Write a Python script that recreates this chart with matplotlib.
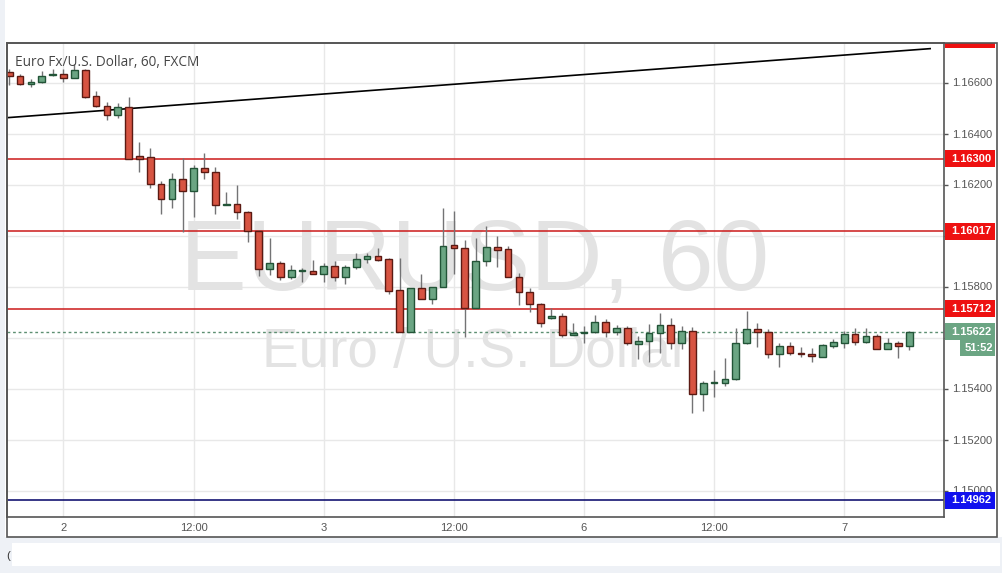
import matplotlib
matplotlib.use('Agg')
import matplotlib.pyplot as plt
from matplotlib.patches import Rectangle

# ---------------- data ----------------
opens = [1.16640, 1.16624, 1.16593, 1.16601, 1.16628, 1.16632, 1.16616, 1.16650, 1.16546, 1.16507,
         1.16471, 1.16503, 1.16312, 1.16309, 1.16201, 1.16142, 1.16223, 1.16173, 1.16264, 1.16250,
         1.16118, 1.16122, 1.16091, 1.16019, 1.15867, 1.15891, 1.15838, 1.15862, 1.15862, 1.15850,
         1.15879, 1.15836, 1.15875, 1.15907, 1.15918, 1.15907, 1.15786, 1.15622, 1.15793, 1.15750,
         1.15797, 1.15962, 1.15952, 1.15714, 1.15899, 1.15954, 1.15946, 1.15836, 1.15777, 1.15730,
         1.15675, 1.15683, 1.15609, 1.15619, 1.15620, 1.15660, 1.15622, 1.15636, 1.15573, 1.15587,
         1.15617, 1.15648, 1.15577, 1.15627, 1.15377, 1.15422, 1.15423, 1.15436, 1.15577, 1.15632,
         1.15622, 1.15534, 1.15566, 1.15539, 1.15535, 1.15525, 1.15568, 1.15580, 1.15614, 1.15583,
         1.15606, 1.15556, 1.15577, 1.15566]
highs = [1.16653, 1.16632, 1.16614, 1.16645, 1.16653, 1.16653, 1.16671, 1.16653, 1.16568, 1.16525,
         1.16518, 1.16543, 1.16366, 1.16342, 1.16215, 1.16244, 1.16303, 1.16275, 1.16322, 1.16267,
         1.16171, 1.16198, 1.16095, 1.16022, 1.15989, 1.15899, 1.15886, 1.15873, 1.15903, 1.15891,
         1.15900, 1.15884, 1.15933, 1.15931, 1.15950, 1.15911, 1.15911, 1.15794, 1.15849, 1.15798,
         1.16107, 1.16097, 1.15982, 1.15991, 1.16037, 1.15998, 1.15959, 1.15852, 1.15793, 1.15736,
         1.15714, 1.15695, 1.15658, 1.15645, 1.15688, 1.15674, 1.15648, 1.15645, 1.15606, 1.15653,
         1.15695, 1.15675, 1.15646, 1.15640, 1.15431, 1.15473, 1.15518, 1.15636, 1.15704, 1.15658,
         1.15632, 1.15577, 1.15582, 1.15564, 1.15558, 1.15576, 1.15595, 1.15627, 1.15636, 1.15637,
         1.15614, 1.15597, 1.15586, 1.15624]
lows = [1.16590, 1.16590, 1.16584, 1.16598, 1.16627, 1.16603, 1.16616, 1.16540, 1.16504, 1.16452,
        1.16462, 1.16300, 1.16250, 1.16185, 1.16084, 1.16107, 1.16013, 1.16074, 1.16220, 1.16084,
        1.16118, 1.16064, 1.15976, 1.15841, 1.15844, 1.15826, 1.15828, 1.15819, 1.15849, 1.15816,
        1.15823, 1.15811, 1.15869, 1.15893, 1.15901, 1.15772, 1.15622, 1.15622, 1.15750, 1.15730,
        1.15797, 1.15849, 1.15603, 1.15714, 1.15882, 1.15878, 1.15836, 1.15729, 1.15699, 1.15640,
        1.15671, 1.15602, 1.15608, 1.15577, 1.15618, 1.15603, 1.15610, 1.15570, 1.15514, 1.15505,
        1.15540, 1.15554, 1.15554, 1.15305, 1.15313, 1.15368, 1.15410, 1.15435, 1.15574, 1.15564,
        1.15521, 1.15486, 1.15530, 1.15525, 1.15503, 1.15524, 1.15560, 1.15560, 1.15570, 1.15580,
        1.15554, 1.15555, 1.15521, 1.15551]
closes = [1.16624, 1.16593, 1.16601, 1.16627, 1.16632, 1.16616, 1.16650, 1.16543, 1.16507, 1.16471,
          1.16503, 1.16300, 1.16301, 1.16201, 1.16142, 1.16223, 1.16173, 1.16264, 1.16250, 1.16118,
          1.16124, 1.16092, 1.16019, 1.15867, 1.15891, 1.15838, 1.15864, 1.15863, 1.15850, 1.15880,
          1.15836, 1.15876, 1.15907, 1.15918, 1.15905, 1.15784, 1.15622, 1.15793, 1.15750, 1.15797,
          1.15960, 1.15950, 1.15714, 1.15899, 1.15954, 1.15944, 1.15836, 1.15777, 1.15730, 1.15658,
          1.15684, 1.15609, 1.15618, 1.15622, 1.15660, 1.15620, 1.15636, 1.15577, 1.15587, 1.15617,
          1.15648, 1.15577, 1.15627, 1.15377, 1.15420, 1.15424, 1.15437, 1.15577, 1.15632, 1.15620,
          1.15534, 1.15566, 1.15538, 1.15534, 1.15526, 1.15571, 1.15582, 1.15614, 1.15583, 1.15606,
          1.15556, 1.15577, 1.15566, 1.15622]

xtick_pos = [5, 17, 29, 41, 53, 65, 77]
xtick_labels = ["2", "12:00", "3", "12:00", "6", "12:00", "7"]
ytick_vals = [1.150, 1.152, 1.154, 1.156, 1.158, 1.160, 1.162, 1.164, 1.166]
# tick labels hidden under the price-scale boxes in the reference
ytick_hidden = [1.156, 1.160]

trend_x = [-0.2, 85.0]
trend_y = [1.16462, 1.16733]
resistance_levels = [1.16300, 1.16017, 1.15712]
support_level = 1.14962
last_price = 1.15622
top_label_price = 1.16767
countdown = "51:52"
title = "Euro Fx/U.S. Dollar, 60, FXCM"
wm_big = "EURUSD, 60"
wm_small = "Euro / U.S. Dollar"

# ---------------- layout helpers (pixels) ----------------
W, H = 1002, 573
PL, PR, PT, PB = 7, 944, 43, 517


def fx(px):
    return px / W


def fy(py):
    return 1 - py / H


def axx(px):
    return (px - PL) / (PR - PL)


def axy(py):
    return (PB - py) / (PB - PT)


UP, DOWN = '#6ba583', '#d75442'
UP_EDGE, DOWN_EDGE = '#225437', '#5b1a13'
WICK = '#737375'
TXT = '#555555'

fig = plt.figure(figsize=(W / 100, H / 100), dpi=100)
fig.patch.set_facecolor('#eef1f6')
fig.add_artist(Rectangle((fx(5), fy(537)), fx(1002) - fx(5), fy(0) - fy(537),
                         transform=fig.transFigure, fc='white', ec='none', zorder=0))
fig.add_artist(Rectangle((fx(12), fy(566)), fx(1000) - fx(12), fy(543) - fy(566),
                         transform=fig.transFigure, fc='white', ec='none', zorder=0))
fig.add_artist(Rectangle((fx(7), fy(537)), fx(997) - fx(7), fy(43) - fy(537),
                         transform=fig.transFigure, fc='none', ec='#555555', lw=1.2, zorder=5))
fig.text(fx(6), fy(556), "(", fontsize=8, color='#333333', ha='left', va='center',
         family='Liberation Sans')

ax = fig.add_axes([fx(PL), fy(PB), fx(PR) - fx(PL), fy(PT) - fy(PB)])
ax.set_facecolor('white')
ax.set_xlim(-0.21, 86.2)
ymin = 1.166 - (PB - 82.5) / 25500
ymax = 1.166 - (PT - 82.5) / 25500
ax.set_ylim(ymin, ymax)

for xp in xtick_pos:
    ax.axvline(xp, color='#e8e8e8', lw=1, zorder=0)
for yv in ytick_vals:
    ax.axhline(yv, color='#e8e8e8', lw=1, zorder=0)

ax.text(axx(475), axy(290), wm_big, transform=ax.transAxes, fontsize=72, color='#e3e3e3',
        ha='center', va='baseline', family='Liberation Sans', zorder=1)
ax.text(axx(476), axy(367), wm_small, transform=ax.transAxes, fontsize=39.5, color='#e3e3e3',
        ha='center', va='baseline', family='Liberation Sans', zorder=1)

ax.text(axx(15), axy(65.5), title, transform=ax.transAxes, fontsize=9.8, color='#454545',
        ha='left', va='baseline', family='Open Sans', zorder=6)

for lv in resistance_levels:
    ax.axhline(lv, color='#cc1a1a', lw=1.1, zorder=2)
ax.axhline(support_level, color='#000066', lw=1.1, zorder=2)
ax.axhline(last_price, color='#5d8f72', lw=1, ls=(0, (2, 2)), zorder=2)
ax.plot(trend_x, trend_y, color='black', lw=1.2, zorder=2, solid_capstyle='butt')

for i, (o, h, l, c) in enumerate(zip(opens, highs, lows, closes)):
    up = c >= o
    ax.vlines(i, l, h, color=WICK, lw=1, zorder=3)
    ax.bar(i, max(abs(c - o), 0.000005), bottom=min(o, c), width=0.62,
           color=UP if up else DOWN, edgecolor=UP_EDGE if up else DOWN_EDGE,
           linewidth=1, zorder=4)

for s in ax.spines.values():
    s.set_color('#555555')
    s.set_linewidth(1.2)
ax.yaxis.tick_right()
ax.set_yticks(ytick_vals)
ax.set_yticklabels(["" if any(abs(v - h) < 1e-9 for h in ytick_hidden) else f"{v:.5f}"
                    for v in ytick_vals])
ax.tick_params(axis='y', length=3, width=1, color='#555555', pad=3, labelsize=8,
               labelcolor=TXT)
ax.set_xticks(xtick_pos)
ax.set_xticklabels(xtick_labels)
ax.tick_params(axis='x', length=0, pad=4, labelsize=8, labelcolor=TXT)
for lab in ax.get_xticklabels() + ax.get_yticklabels():
    lab.set_family('Liberation Sans')

pax = fig.add_axes([fx(PR), fy(PB), fx(1002) - fx(PR), fy(PT) - fy(PB)])
pax.set_xlim(PR, 1002)
pax.set_ylim(ymin, ymax)
pax.axis('off')
pax.patch.set_alpha(0)
bh = 17 / 25500


def price_label(price, color, text, x0=945, x1=995, dy=0.0):
    yc = price - dy
    r = Rectangle((x0, yc - bh / 2), x1 - x0, bh, fc=color, ec='none', zorder=5, clip_on=True)
    pax.add_patch(r)
    pax.text((x0 + x1) / 2 + 1, yc, text, color='white', fontsize=8, fontweight='bold',
             ha='center', va='center', family='Liberation Sans', zorder=6, clip_on=True)


price_label(top_label_price, '#ee1111', f"{top_label_price:.5f}")
for lv in resistance_levels:
    price_label(lv, '#ee1111', f"{lv:.5f}")
price_label(last_price, '#6ba583', f"{last_price:.5f}")
price_label(last_price, '#6ba583', countdown, x0=960, x1=995, dy=16 / 25500)
price_label(support_level, '#1111ee', f"{support_level:.5f}")

fig.savefig('out.png', dpi=100, facecolor=fig.get_facecolor())
